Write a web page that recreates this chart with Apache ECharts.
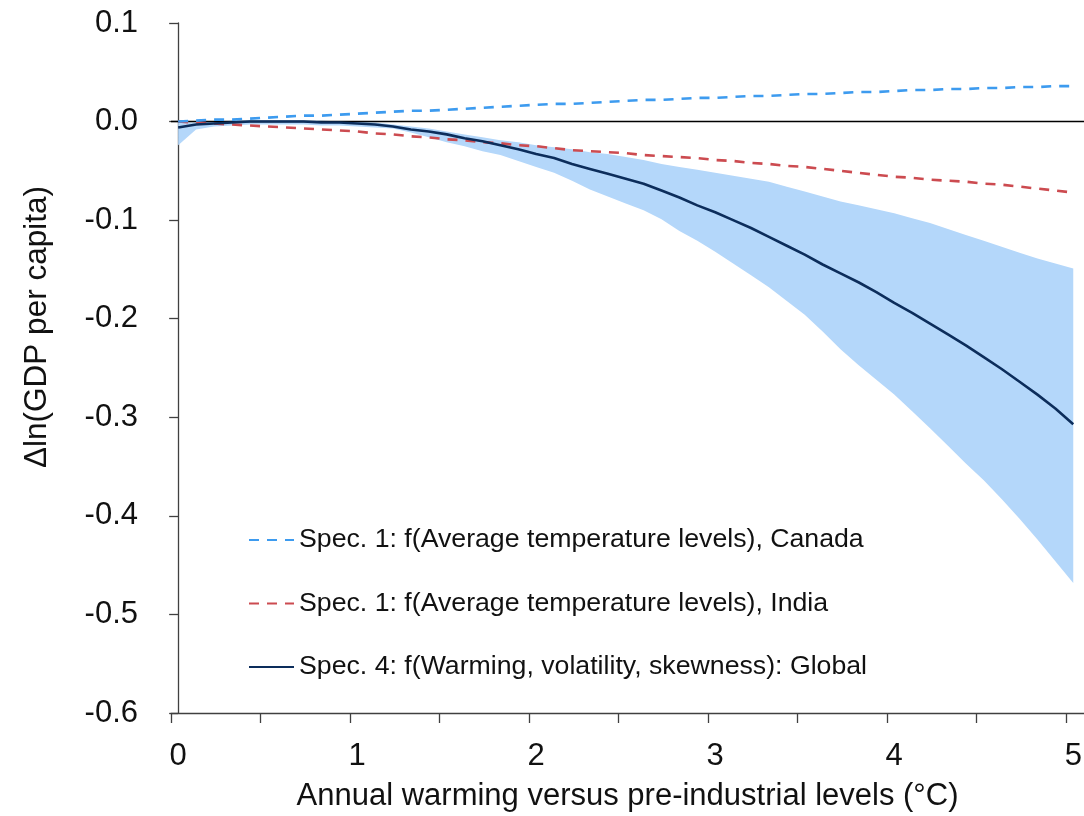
<!DOCTYPE html>
<html>
<head>
<meta charset="utf-8">
<script src="https://cdn.jsdelivr.net/npm/echarts@6/dist/echarts.min.js"></script>
<style>html,body{margin:0;padding:0;background:#fff}#c{width:1084px;height:816px}</style>
</head>
<body>
<div id="c"></div>
<script>
// Annual warming versus pre-industrial levels (°C)
var warming = [0.0,0.1,0.2,0.3,0.4,0.5,0.6,0.7,0.8,0.9,
  1.0,1.1,1.2,1.3,1.4,1.5,1.6,1.7,1.8,1.9,
  2.0,2.1,2.2,2.3,2.4,2.5,2.6,2.7,2.8,2.9,
  3.0,3.1,3.2,3.3,3.4,3.5,3.6,3.7,3.8,3.9,
  4.0,4.1,4.2,4.3,4.4,4.5,4.6,4.7,4.8,4.9,5.0];

var canada = [0.000,0.001,0.002,0.002,0.003,0.004,0.005,0.006,0.006,0.007,
  0.008,0.009,0.010,0.011,0.011,0.012,0.013,0.014,0.015,0.016,
  0.017,0.018,0.018,0.019,0.020,0.021,0.022,0.022,0.023,0.024,
  0.024,0.025,0.026,0.026,0.027,0.028,0.028,0.029,0.030,0.030,
  0.031,0.032,0.032,0.033,0.033,0.034,0.034,0.035,0.035,0.036,0.036];

var india = [0.000,-0.001,-0.002,-0.003,-0.004,-0.005,-0.006,-0.007,-0.008,-0.009,
  -0.010,-0.012,-0.013,-0.015,-0.016,-0.018,-0.019,-0.021,-0.022,-0.024,
  -0.025,-0.027,-0.029,-0.030,-0.031,-0.032,-0.034,-0.035,-0.036,-0.037,
  -0.039,-0.040,-0.042,-0.043,-0.045,-0.046,-0.048,-0.050,-0.052,-0.054,
  -0.056,-0.057,-0.059,-0.060,-0.061,-0.063,-0.064,-0.066,-0.068,-0.070,-0.072];

var globalMean = [-0.006,-0.003,-0.002,-0.001,0.000,0.000,0.000,0.000,-0.001,-0.001,
  -0.002,-0.003,-0.005,-0.008,-0.010,-0.013,-0.017,-0.020,-0.024,-0.028,
  -0.033,-0.037,-0.043,-0.048,-0.053,-0.058,-0.063,-0.070,-0.077,-0.085,
  -0.092,-0.100,-0.108,-0.117,-0.126,-0.135,-0.145,-0.154,-0.163,-0.173,
  -0.184,-0.194,-0.205,-0.216,-0.227,-0.239,-0.251,-0.264,-0.277,-0.291,-0.307];

var bandUpper = [-0.001,-0.001,0.000,0.001,0.001,0.001,0.001,0.001,0.001,0.000,
  0.000,-0.001,-0.003,-0.005,-0.007,-0.010,-0.013,-0.016,-0.019,-0.021,
  -0.024,-0.026,-0.028,-0.031,-0.033,-0.036,-0.039,-0.043,-0.046,-0.049,
  -0.052,-0.055,-0.058,-0.061,-0.066,-0.071,-0.076,-0.081,-0.085,-0.089,
  -0.093,-0.098,-0.103,-0.109,-0.115,-0.121,-0.127,-0.133,-0.139,-0.144,-0.149];

var bandLower = [-0.024,-0.008,-0.005,-0.004,-0.003,-0.003,-0.003,-0.003,-0.004,-0.004,
  -0.005,-0.006,-0.007,-0.011,-0.016,-0.021,-0.025,-0.030,-0.034,-0.040,
  -0.046,-0.052,-0.060,-0.069,-0.076,-0.083,-0.090,-0.099,-0.111,-0.121,
  -0.132,-0.144,-0.156,-0.168,-0.182,-0.196,-0.213,-0.231,-0.247,-0.262,
  -0.277,-0.294,-0.311,-0.329,-0.347,-0.364,-0.383,-0.403,-0.424,-0.446,-0.468];

var xLabelValues = [0, 1, 2, 3, 4, 5];
var xTickValues = [-0.04, 0.46, 0.96, 1.46, 1.96, 2.46, 2.96, 3.46, 3.96, 4.46, 4.96];

var nameCanada = 'Spec. 1: f(Average temperature levels), Canada';
var nameIndia = 'Spec. 1: f(Average temperature levels), India';
var nameGlobal = 'Spec. 4: f(Warming, volatility, skewness): Global';

function pairs(ys) { return warming.map(function (x, i) { return [x, ys[i]]; }); }
var bandData = warming.map(function (x, i) { return [x, bandLower[i], bandUpper[i]]; });

var FONT = '"Liberation Sans", Arial, Helvetica, sans-serif';
var chart = echarts.init(document.getElementById('c'), null, {renderer: 'canvas'});
chart.setOption({
  animation: false,
  backgroundColor: '#ffffff',
  textStyle: {fontFamily: FONT},
  grid: {left: 171, top: 23, width: 913, height: 690, containLabel: false, outerBoundsMode: 'none'},
  legend: {
    orient: 'vertical', left: 248, top: 525, padding: 0,
    itemWidth: 45, itemHeight: 14, itemGap: 33.5,
    itemStyle: {color: 'rgba(0,0,0,0)', borderWidth: 0, opacity: 0},
    textStyle: {fontSize: 26.7, color: '#111', fontFamily: FONT, lineHeight: 30},
    data: [nameCanada, nameIndia, nameGlobal]
  },
  xAxis: {
    type: 'value', min: -0.04, max: 5.06,
    name: 'Annual warming versus pre-industrial levels (°C)',
    nameLocation: 'middle', nameGap: 68, nameMoveOverlap: false,
    nameTextStyle: {fontSize: 31, color: '#111', fontFamily: FONT},
    axisLine: {onZero: false, lineStyle: {color: '#404040', width: 1.3}},
    axisTick: {show: true, length: 10, inside: false, customValues: xTickValues, lineStyle: {color: '#404040', width: 1.3}},
    axisLabel: {customValues: xLabelValues, fontSize: 31, color: '#111', margin: 28, fontFamily: FONT,
      formatter: function (v) { return String(Math.round(v)); }},
    splitLine: {show: false}
  },
  yAxis: {
    type: 'value', min: -0.6, max: 0.1, interval: 0.1,
    name: 'Δln(GDP per capita)', nameLocation: 'middle', nameRotate: 90, nameGap: 118,
    nameTextStyle: {fontSize: 31.5, color: '#111', fontFamily: FONT, padding: [0, 0, 0, 82]},
    axisLine: {show: true, lineStyle: {color: '#404040', width: 1.3}},
    axisTick: {show: true, length: 9, lineStyle: {color: '#404040', width: 1.3}},
    axisLabel: {fontSize: 31, color: '#111', margin: 33, fontFamily: FONT,
      formatter: function (v) { return v.toFixed(1); }},
    splitLine: {show: false}
  },
  series: [
    {
      name: 'band', type: 'custom', data: bandData, silent: true, z: 1,
      encode: {x: 0, y: [1, 2]},
      renderItem: function (params, api) {
        if (params.dataIndex !== 0) { return null; }
        var pts = [];
        var i;
        for (i = 0; i < bandData.length; i++) {
          pts.push(api.coord([bandData[i][0], bandData[i][2]]));
        }
        for (i = bandData.length - 1; i >= 0; i--) {
          pts.push(api.coord([bandData[i][0], bandData[i][1]]));
        }
        return {type: 'polygon', shape: {points: pts}, style: {fill: '#b4d7fa', stroke: null}};
      }
    },
    {
      name: nameIndia, type: 'line', data: pairs(india), symbol: 'none', z: 3,
      lineStyle: {color: '#cc4b50', width: 2.6, type: [10, 8]},
      itemStyle: {color: '#cc4b50'},
      markLine: {
        silent: true, symbol: 'none', label: {show: false}, z: 2,
        lineStyle: {color: '#000', width: 1.4, type: 'solid'},
        data: [{yAxis: 0}]
      }
    },
    {
      name: nameCanada, type: 'line', data: pairs(canada), symbol: 'none', z: 3,
      lineStyle: {color: '#3d9bef', width: 2.6, type: [10, 8]},
      itemStyle: {color: '#3d9bef'}
    },
    {
      name: nameGlobal, type: 'line', data: pairs(globalMean), symbol: 'none', z: 4,
      lineStyle: {color: '#0c2d5b', width: 2.6, type: 'solid'},
      itemStyle: {color: '#0c2d5b'}
    }
  ]
});
</script>
</body>
</html>
